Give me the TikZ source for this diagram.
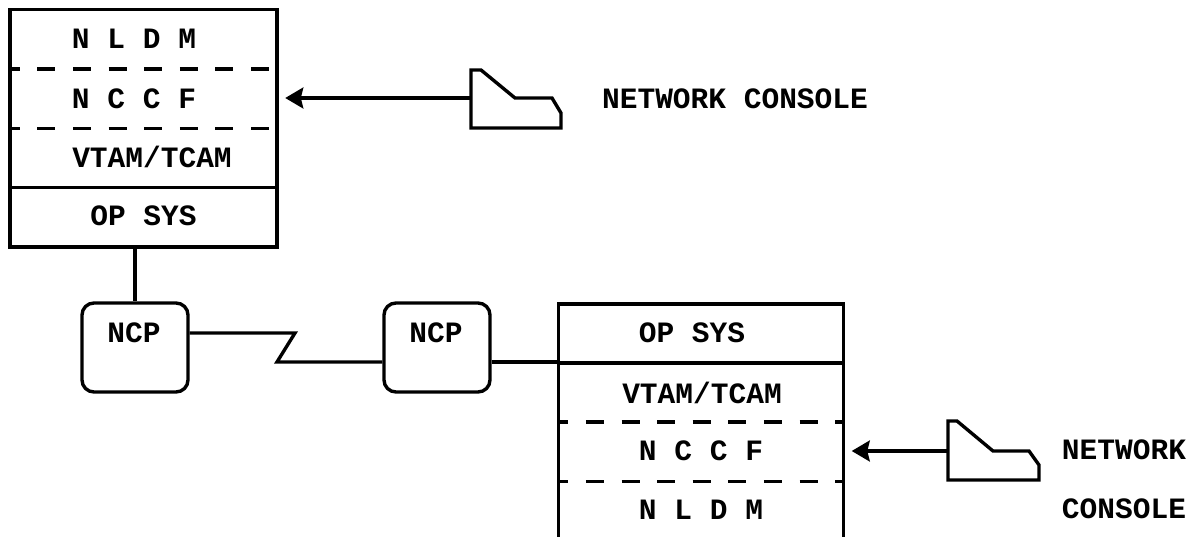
\documentclass[tikz,border=0pt]{standalone}
\usepackage{fontspec}
\setmainfont{Liberation Mono}
\usepackage{tikz}
\usetikzlibrary{arrows.meta,positioning}

\begin{document}
\begin{tikzpicture}[
    x=0.025cm, y=-0.025cm,
    node distance=0pt,
    wire/.style={line width=2.4pt, line join=miter},
    sep/.style={line width=2.4pt, dash pattern=on 0.45cm off 0.44cm, dash phase=0.21cm},
    arr/.style={-{Stealth[length=0.45cm,width=0.52cm,inset=0.06cm]}, line width=2.4pt, shorten >=0.21cm},
    cellA/.style={minimum width=6.65cm, minimum height=1.469cm, inner sep=0pt},
    cellB/.style={cellA, minimum width=7.1cm, minimum height=1.4625cm},
    ncpbox/.style={draw, line width=2.4pt, rounded corners=0.3cm, minimum width=2.65cm, minimum height=2.225cm},
    lbl/.style={inner sep=0pt, font=\fontsize{21}{24}\selectfont\bfseries}
]
\useasboundingbox (0,0) rectangle (1193,537);
% upper host
\node[cellA] (nldmA) at (143.5,39.4) {};
\node[cellA, below=of nldmA] (nccfA) {};
\node[cellA, below=of nccfA] (vtamA) {};
\node[cellA, below=of vtamA] (opsysA) {};
\draw[wire] (nldmA.north west) rectangle (opsysA.south east);
\draw[sep] (nldmA.south west) -- (nldmA.south east);
\draw[sep] (nccfA.south west) -- (nccfA.south east);
\draw[wire] (vtamA.south west) -- (vtamA.south east);
\node[lbl] (nldmAtxt) at (134,39) {N L D M};
\node[lbl] (nccfAtxt) at (134,99) {N C C F};
\node[lbl] (vtamAtxt) at (152,157) {VTAM/TCAM};
\node[lbl] (opsysAtxt) at (143.5,216) {OP SYS};
% lower host
\node[cellB] (opsysB) at (701,333.5) {};
\node[cellB, below=of opsysB] (vtamB) {};
\node[cellB, below=of vtamB] (nccfB) {};
\node[cellB, below=of nccfB] (nldmB) {};
\draw[wire] (nldmB.south west) -- (opsysB.north west) -- (opsysB.north east) -- (nldmB.south east);
\draw[wire] (opsysB.south west) -- (opsysB.south east);
\draw[sep] (vtamB.south west) -- (vtamB.south east);
\draw[sep] (nccfB.south west) -- (nccfB.south east);
\node[lbl] (opsysBtxt) at (692,333) {OP SYS};
\node[lbl] (vtamBtxt) at (702,393) {VTAM/TCAM};
\node[lbl] (nccfBtxt) at (701,451) {N C C F};
\node[lbl] (nldmBtxt) at (701,510) {N L D M};
% line control
\node[ncpbox] (ncpA) at (135,347.5) {};
\node[ncpbox] (ncpB) at (437,347.5) {};
\node[lbl] (ncpAtxt) at (134,333) {NCP};
\node[lbl] (ncpBtxt) at (436,333) {NCP};
\coordinate (zigA) at (295,333);
\coordinate (zigB) at (277,362);
\draw[wire] (opsysA.south -| ncpA.north) -- (ncpA.north);
\draw[wire] (ncpA.east |- zigA) -- (zigA) -- (zigB) -- (ncpB.west |- zigB);
\draw[wire] (ncpB.east |- zigB) -- (zigB -| opsysB.west);
% consoles
\coordinate (consA) at (471,98);
\coordinate (consB) at (948,451);
\draw[wire] (471,70) -- (481,70) -- (515,98) -- (552,98) -- (561,113) -- (561,128) -- (471,128) -- cycle;
\draw[wire] (948,421) -- (957,421) -- (993,451) -- (1029,451) -- (1039,465) -- (1039,480) -- (948,480) -- cycle;
\draw[arr] (consA) -- (consA -| nccfA.east);
\draw[arr] (consB) -- (consB -| nccfB.east);
\node[lbl] (consAtxt) at (735,99) {NETWORK CONSOLE};
\node[lbl] (consBtxt) at (1124,450) {NETWORK};
\node[lbl] (consCtxt) at (1124,509) {CONSOLE};
\end{tikzpicture}
\end{document}
